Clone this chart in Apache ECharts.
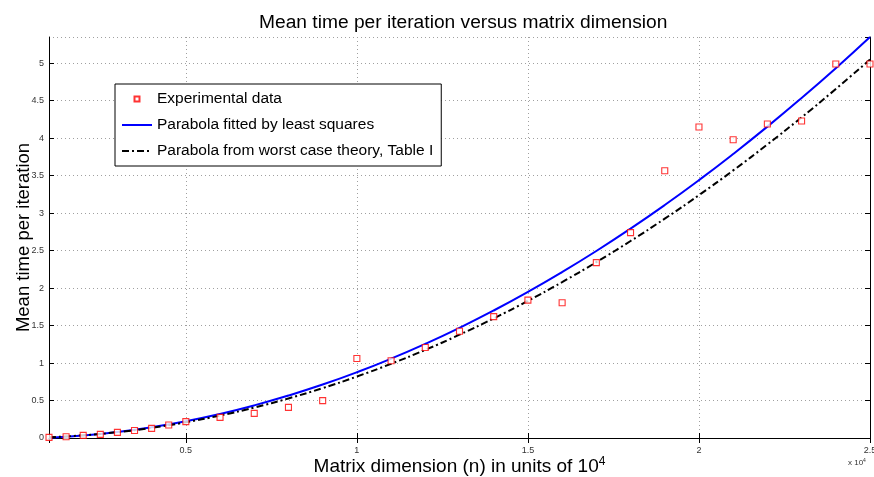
<!DOCTYPE html>
<html>
<head>
<meta charset="utf-8">
<script src="https://cdn.jsdelivr.net/npm/echarts@6/dist/echarts.min.js"></script>
<style>
html,body{margin:0;padding:0;background:#fff}
#chart{width:874px;height:477px}
</style>
</head>
<body>
<div id="chart"></div>
<script>
// measured points (matrix dimension n, mean time per iteration)
var dimN = [1000,1500,2000,2500,3000,3500,4000,4500,5000,6000,7000,8000,9000,10000,
	11000,12000,13000,14000,15000,16000,17000,18000,19000,20000,21000,22000,23000,24000,25000];
var timeExp = [0.008,0.017,0.035,0.048,0.075,0.10,0.128,0.174,0.218,0.275,0.329,0.409,0.499,1.06,
	1.03,1.207,1.425,1.62,1.84,1.805,2.34,2.74,3.565,4.15,3.98,4.19,4.23,4.99,4.99];

// the two parabolas, every 1000
var curveN = [1000,2000,3000,4000,5000,6000,7000,8000,9000,10000,11000,12000,13000,
	14000,15000,16000,17000,18000,19000,20000,21000,22000,23000,24000,25000];
var fitLsq = [0.003,0.033,0.080,0.144,0.224,0.321,0.435,0.566,0.713,0.877,1.058,1.256,1.470,
	1.701,1.949,2.214,2.495,2.793,3.108,3.440,3.789,4.154,4.536,4.934,5.350];
var fitTheory = [0.010,0.036,0.078,0.136,0.210,0.300,0.406,0.528,0.666,0.820,0.990,1.176,1.378,
	1.596,1.830,2.080,2.346,2.628,2.926,3.240,3.570,3.916,4.278,4.656,5.050];

var seriesNames = ['Experimental data', 'Parabola fitted by least squares', 'Parabola from worst case theory, Table I'];

function pairs(xs, ys) {
	var out = [];
	for (var i = 0; i < xs.length; i++) {
		out.push([xs[i], ys[i]]);
	}
	return out;
}

var FONT = 'Liberation Sans, Arial, sans-serif';
var dotted = {show: true, lineStyle: {color: '#a0a0a0', type: [1, 3], width: 1}};
// hide the circle echarts puts on line legend icons
var noSymbol = {opacity: 0, color: 'rgba(0,0,0,0)', borderWidth: 0};

var chart = echarts.init(document.getElementById('chart'));
var option = {
	backgroundColor: '#fff',
	animation: false,
	textStyle: {fontFamily: FONT},
	title: {
		text: 'Mean time per iteration versus matrix dimension',
		left: 254,
		top: 8,
		textStyle: {fontSize: 19.2, fontWeight: 'normal', color: '#000', fontFamily: FONT}
	},
	graphic: [{
		type: 'text',
		left: 848,
		top: 458,
		style: {
			text: 'x 10{s|4}',
			rich: {s: {fontSize: 5, verticalAlign: 'top', padding: [0, 0, 4, 0]}},
			fontSize: 8,
			fill: '#333',
			fontFamily: FONT
		}
	}],
	legend: {
		orient: 'vertical',
		left: 115,
		top: 84,
		itemWidth: 30,
		itemHeight: 14,
		itemGap: 10,
		padding: [7, 8, 7, 6],
		borderColor: '#000',
		borderWidth: 1,
		borderRadius: 0,
		backgroundColor: '#fff',
		selectedMode: false,
		textStyle: {fontSize: 15.5, color: '#000', fontFamily: FONT},
		data: [
			{name: seriesNames[0], icon: 'path://M0,0M30,14M12.5,4.5L17.5,4.5L17.5,9.5L12.5,9.5Z'},
			{name: seriesNames[1], itemStyle: noSymbol},
			{name: seriesNames[2], itemStyle: noSymbol}
		]
	},
	grid: {left: 49, right: 4, top: 37, bottom: 39, containLabel: false, outerBoundsMode: 'none'},
	xAxis: [{
		type: 'value',
		min: 1000,
		max: 25000,
		splitNumber: 5,
		name: 'Matrix dimension (n) in units of 10{s|4}',
		nameLocation: 'middle',
		nameGap: 18,
		nameMoveOverlap: false,
		nameTextStyle: {
			fontSize: 19, color: '#000', fontFamily: FONT,
			rich: {s: {fontSize: 12, verticalAlign: 'top', padding: [0, 0, 10, 0]}}
		},
		axisLine: {lineStyle: {color: '#000', width: 1}},
		axisTick: {inside: true, length: 5, lineStyle: {color: '#000'}},
		axisLabel: {
			fontSize: 9, color: '#333', margin: 8, showMinLabel: false,
			formatter: function (v) { return v % 5000 === 0 ? String(v / 10000) : ''; }
		},
		splitLine: dotted
	}, {
		type: 'value',
		position: 'top',
		min: 1000,
		max: 25000,
		splitNumber: 5,
		axisLine: {lineStyle: {color: '#000', width: 1}},
		axisTick: {inside: true, length: 5, lineStyle: {color: '#000'}},
		axisLabel: {show: false},
		splitLine: {show: false}
	}],
	yAxis: [{
		type: 'value',
		min: 0,
		max: 5.35,
		interval: 0.5,
		name: 'Mean time per iteration',
		nameLocation: 'middle',
		nameGap: 16,
		nameMoveOverlap: false,
		nameTextStyle: {fontSize: 18.5, color: '#000', fontFamily: FONT},
		axisLine: {show: true, lineStyle: {color: '#000', width: 1}},
		axisTick: {show: true, inside: true, length: 5, lineStyle: {color: '#000'}},
		axisLabel: {
			fontSize: 9, color: '#333', margin: 5, showMaxLabel: false,
			formatter: function (v) { return v > 5.01 ? '' : String(v); }
		},
		splitLine: dotted
	}, {
		type: 'value',
		position: 'right',
		min: 0,
		max: 5.35,
		interval: 0.5,
		axisLine: {show: true, lineStyle: {color: '#000', width: 1}},
		axisTick: {show: true, inside: true, length: 5, lineStyle: {color: '#000'}},
		axisLabel: {show: false},
		splitLine: {show: false}
	}],
	series: [{
		name: seriesNames[0],
		type: 'scatter',
		symbol: 'rect',
		symbolSize: 6,
		z: 3,
		itemStyle: {color: '#fff', borderColor: '#ff0000', borderWidth: 1.1},
		data: pairs(dimN, timeExp)
	}, {
		name: seriesNames[1],
		type: 'line',
		smooth: true,
		symbol: 'none',
		z: 2,
		lineStyle: {color: '#0000ff', width: 2},
		itemStyle: {color: '#0000ff'},
		data: pairs(curveN, fitLsq)
	}, {
		name: seriesNames[2],
		type: 'line',
		smooth: true,
		symbol: 'none',
		z: 2,
		lineStyle: {color: '#000', width: 2, type: [7, 3, 2, 3]},
		itemStyle: {color: '#000'},
		data: pairs(curveN, fitTheory)
	}]
};
chart.setOption(option);
</script>
</body>
</html>
